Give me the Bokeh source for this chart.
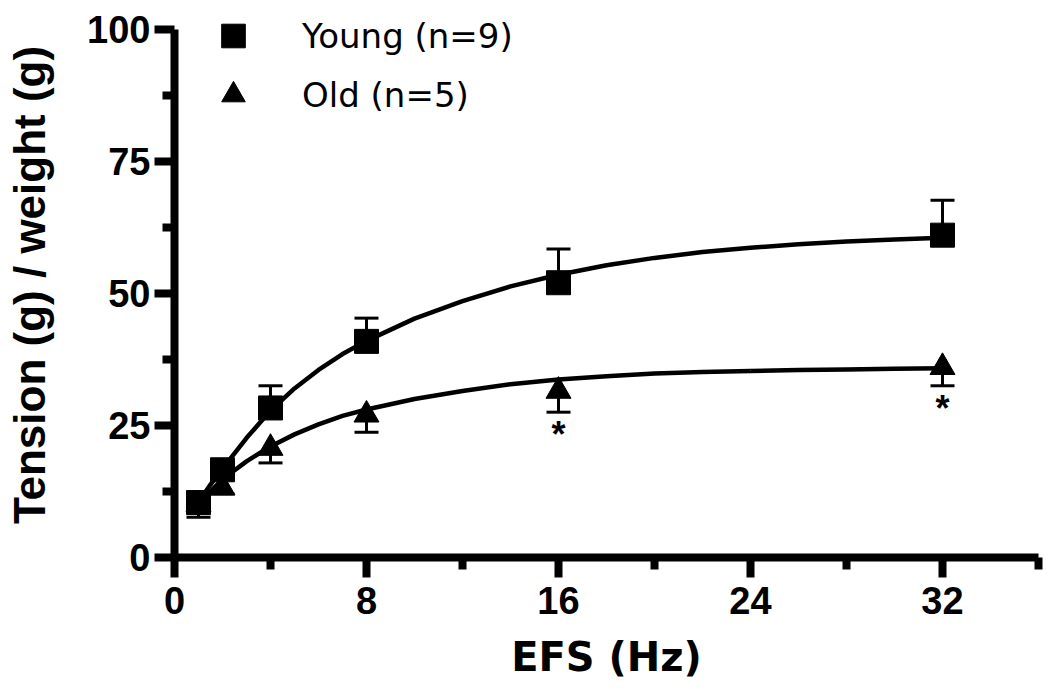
from bokeh.plotting import figure
from bokeh.models import Range1d, FixedTicker, Legend, LegendItem, ColumnDataSource
from bokeh.embed import file_html
from bokeh.resources import INLINE
from bokeh.core.properties import value

# ---- data ----
freq = [1, 2, 4, 8, 16, 32]
young_mean = [10.4, 16.6, 28.3, 40.9, 52.0, 61.0]
young_upper = [12.0, 18.5, 32.5, 45.3, 58.4, 67.6]
old_mean = [10.0, 13.2, 20.7, 27.0, 31.5, 36.0]
old_lower = [7.6, 12.0, 17.9, 23.7, 27.5, 32.5]

fit_x = [1, 1.5, 2, 3, 4, 5, 6, 7, 8, 10, 12, 14, 16, 18, 20, 22, 24, 26, 28, 30, 32]
young_fit = [10.5, 13.8, 16.8, 22.6, 27.8, 32.0, 35.5, 38.5, 41.0, 45.2, 48.5, 51.3,
             53.5, 55.3, 56.7, 57.8, 58.6, 59.3, 59.8, 60.2, 60.5]
old_fit = [10.0, 12.5, 14.8, 18.2, 21.0, 23.3, 25.2, 26.8, 28.0, 30.0, 31.5, 32.8,
           33.7, 34.3, 34.8, 35.1, 35.3, 35.5, 35.6, 35.7, 35.8]

sig_freq = [16, 32]
series_labels = ["Young (n=9)", "Old (n=5)"]
x_ticks = [0, 8, 16, 24, 32]
x_minor = [4, 12, 20, 28, 36]
y_ticks = [0, 25, 50, 75, 100]
y_minor = [12.5, 37.5, 62.5, 87.5]

# ---- figure ----
# y range slightly above 100 so the legend (drawn inside the frame) is not clipped;
# the axis itself is bounded to 0..100
p = figure(width=1050, height=691,
           x_range=Range1d(0, 36), y_range=Range1d(0, 103.14),
           output_backend="svg", toolbar_location=None,
           min_border_left=174, min_border_right=12,
           min_border_top=12, min_border_bottom=134)
p.outline_line_color = None
p.grid.visible = False
p.background_fill_color = "white"
p.border_fill_color = "white"

src = ColumnDataSource(dict(x=freq, ym=young_mean, yu=young_upper,
                            om=old_mean, ol=old_lower))

# error bars (young: upward, old: downward)
p.segment(x0="x", y0="ym", x1="x", y1="yu", source=src, line_color="black", line_width=3)
p.scatter(x="x", y="yu", source=src, marker="dash", size=24, line_color="black", line_width=3)
p.segment(x0="x", y0="om", x1="x", y1="ol", source=src, line_color="black", line_width=3)
p.scatter(x="x", y="ol", source=src, marker="dash", size=24, line_color="black", line_width=3)

# fitted curves
p.line(fit_x, young_fit, line_color="black", line_width=4.5)
p.line(fit_x, old_fit, line_color="black", line_width=4.5)

# markers
ry = p.scatter(x="x", y="ym", source=src, marker="square", size=24,
               fill_color="black", line_color="black")
ro = p.scatter(x="x", y="om", source=src, marker="triangle", size=25,
               fill_color="black", line_color="black")

# significance asterisks below old error bars
sig_y = [old_lower[freq.index(f)] for f in sig_freq]
p.text(x=sig_freq, y=sig_y, text=["*"] * len(sig_freq),
       text_font=value("Liberation Sans"), text_font_size="36px",
       text_font_style="bold",
       text_align="center", text_baseline="top", y_offset=2, text_color="black")

# axes
for ax in (p.xaxis[0], p.yaxis[0]):
    ax.axis_line_width = 8
    ax.axis_line_color = "black"
    ax.major_tick_line_width = 8
    ax.minor_tick_line_width = 8
    ax.major_tick_line_color = "black"
    ax.minor_tick_line_color = "black"
    ax.major_tick_out = 20
    ax.major_tick_in = 0
    ax.minor_tick_out = 12
    ax.minor_tick_in = 0
    ax.major_label_text_font = "Liberation Sans"
    ax.major_label_text_font_style = "bold"
    ax.major_label_text_font_size = "38px"
    ax.major_label_text_color = "black"
    ax.axis_label_text_font_style = "bold"
    ax.axis_label_text_color = "black"

p.xaxis[0].ticker = FixedTicker(ticks=x_ticks, minor_ticks=x_minor)
p.yaxis[0].ticker = FixedTicker(ticks=y_ticks, minor_ticks=y_minor)
p.yaxis[0].bounds = (y_ticks[0], y_ticks[-1])
p.xaxis[0].major_label_standoff = 9
p.yaxis[0].major_label_standoff = 4

p.xaxis[0].axis_label = "EFS (Hz)"
p.xaxis[0].axis_label_text_font = "DejaVu Sans"
p.xaxis[0].axis_label_text_font_size = "40px"
p.xaxis[0].axis_label_standoff = 17

p.yaxis[0].axis_label = "Tension (g) / weight (g)"
p.yaxis[0].axis_label_text_font = "Liberation Sans"
p.yaxis[0].axis_label_text_font_size = "44px"
p.yaxis[0].axis_label_standoff = 30

legend = Legend(items=[LegendItem(label=series_labels[0], renderers=[ry]),
                       LegendItem(label=series_labels[1], renderers=[ro])],
                location=(29, 433), orientation="vertical",
                glyph_width=60, glyph_height=59, label_height=59,
                spacing=0, padding=0, margin=0, label_standoff=39,
                border_line_color=None, background_fill_alpha=0,
                label_text_font="DejaVu Sans", label_text_font_size="34px",
                label_text_baseline="middle", label_text_color="black")
p.add_layout(legend)

open("out.html", "w").write(file_html(p, INLINE))
